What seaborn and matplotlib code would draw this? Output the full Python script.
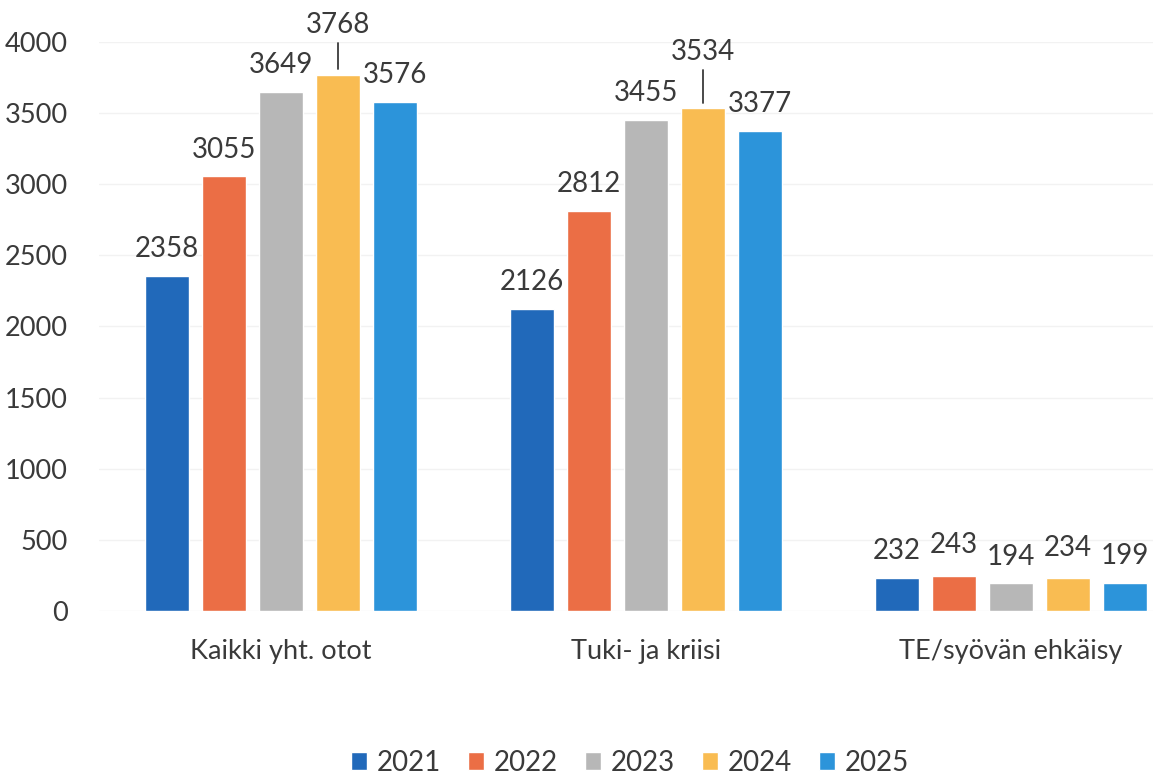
import pandas as pd
import matplotlib
matplotlib.use('Agg')
import matplotlib.pyplot as plt
import seaborn as sns

# Data
categories = ['Kaikki yht. otot', 'Tuki- ja kriisi', 'TE/syövän ehkäisy']
years = ['2021', '2022', '2023', '2024', '2025']
v2021 = [2358, 2126, 232]
v2022 = [3055, 2812, 243]
v2023 = [3649, 3455, 194]
v2024 = [3768, 3534, 234]
v2025 = [3576, 3377, 199]

colors = ['#2169BA', '#EB6E45', '#B7B7B7', '#F9BC52', '#2C94DA']
text_col = '#3a3a3a'

rows = []
for year, vals in zip(years, [v2021, v2022, v2023, v2024, v2025]):
    for cat, v in zip(categories, vals):
        rows.append({'Kategoria': cat, 'Vuosi': year, 'Määrä': v})
df = pd.DataFrame(rows)

sns.set_style('white')
plt.rcParams['font.family'] = ['Lato', 'DejaVu Sans']

fig = plt.figure(figsize=(11.53, 7.78), dpi=100)
ax = fig.add_axes([98.5 / 1153, 167 / 778, 1 - 98.5 / 1153, 569 / 778])

sns.barplot(data=df, x='Kategoria', y='Määrä', hue='Vuosi', palette=colors,
            width=0.78, gap=0.23, ax=ax, saturation=1, legend=True)

ax.set_ylim(0, 4000)
ax.set_xlim(-0.5, -0.5 + (1153 - 98.5) / 365)
ax.set_yticks(range(0, 4001, 500))
ax.yaxis.grid(True, color='#f2f2f2', linewidth=1)
ax.set_axisbelow(True)
for s in ax.spines.values():
    s.set_visible(False)
ax.set_xlabel('')
ax.set_ylabel('')
ax.tick_params(axis='y', labelsize=19.5, colors=text_col, pad=22, length=0)
ax.tick_params(axis='x', labelsize=19.5, colors=text_col, pad=20, length=0)

# manual label nudges (points) for the labels moved in the original
label_nudge = {(0, 3): 17, (1, 3): 21, (2, 1): 3, (2, 3): 2}

for i, cont in enumerate(ax.containers):
    for j, bar in enumerate(cont):
        h = bar.get_height()
        extra = label_nudge.get((j, i), 0)
        xc = bar.get_x() + bar.get_width() / 2
        ax.annotate(f'{int(round(h))}', (xc, h),
                    xytext=(0, 10 + extra), textcoords='offset points',
                    ha='center', va='bottom', fontsize=20, color=text_col,
                    annotation_clip=False)
        if extra > 10:
            ax.plot([xc, xc], [h + 40, h + 40 + extra * 11], color=text_col,
                    lw=1.3, clip_on=False)

leg = ax.legend(loc='center', bbox_to_anchor=(630 / 1153, 1 - 763 / 778),
                bbox_transform=fig.transFigure, ncol=5, frameon=False,
                fontsize=20, handlelength=0.6, handleheight=0.6,
                handletextpad=0.35, columnspacing=0.95)
for t in leg.get_texts():
    t.set_color(text_col)

fig.savefig('out.png', dpi=100)
